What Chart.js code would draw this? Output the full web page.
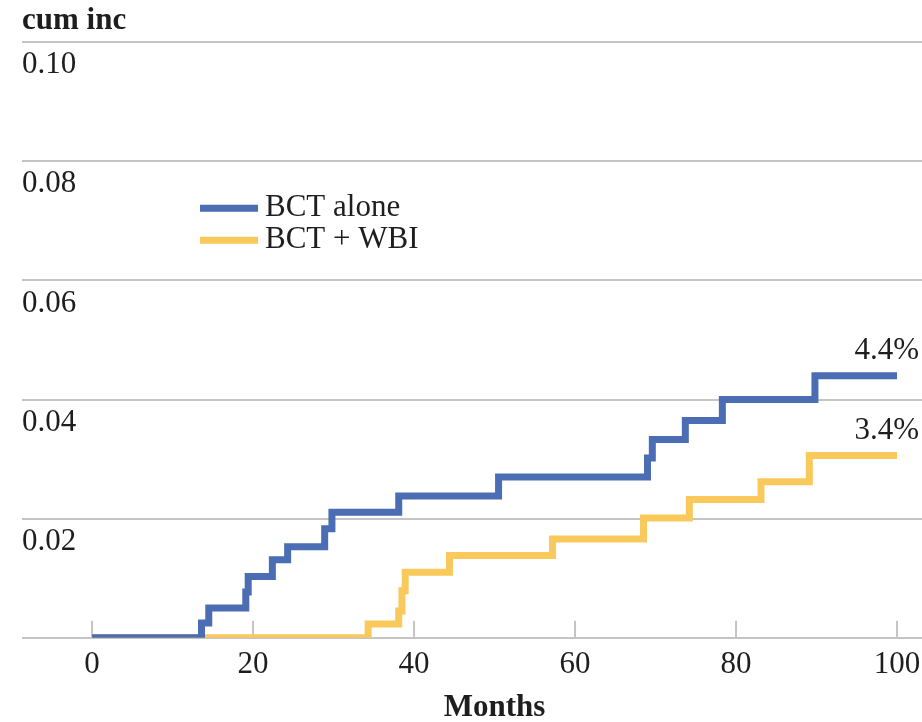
<!DOCTYPE html>
<html>
<head>
<meta charset="utf-8">
<script src="https://cdn.jsdelivr.net/npm/chart.js@4/dist/chart.umd.min.js"></script>
<style>
  body { margin: 0; background: #fff; }
  canvas { display: block; }
</style>
</head>
<body>
<canvas id="kmChart" width="922" height="722"></canvas>
<script>
// cumulative incidence (months, cum inc)
const bctMonths = [0, 13.6, 14.5, 19.1, 19.4, 22.4, 24.3, 28.9, 29.8, 38.1, 50.5, 69.0, 69.6, 73.7, 78.3, 89.8, 100];
const bctCumInc = [0, 0.0025, 0.005, 0.0077, 0.0103, 0.0131, 0.0153, 0.0183, 0.0211, 0.0238, 0.027, 0.0302, 0.0333, 0.0365, 0.040, 0.044, 0.044];

const wbiMonths = [0, 34.3, 38.1, 38.5, 38.9, 44.4, 57.2, 68.5, 74.2, 83.1, 89.1, 100];
const wbiCumInc = [0, 0.0023, 0.0045, 0.0079, 0.011, 0.0138, 0.0166, 0.0201, 0.0232, 0.0262, 0.0306, 0.0306];

const seriesNames = ['BCT alone', 'BCT + WBI'];
const endLabels = ['4.4%', '3.4%'];
const xTicks = [0, 20, 40, 60, 80, 100];
const yTicks = [0, 0.02, 0.04, 0.06, 0.08, 0.10];
const yTickLabels = ['', '0.02', '0.04', '0.06', '0.08', '0.10'];

const BLUE = '#4a6db3';
const YELLOW = '#f9c95c';
const GRID = '#c4c4c4';
const INK = '#1e1e1e';
const SERIF = "'Liberation Serif', 'Times New Roman', serif";
const FONT_SIZE = 31;

const toPoints = (xs, ys) => xs.map((m, i) => ({ x: m, y: ys[i] }));

const decorations = {
    id: 'decorations',
    beforeDatasetsDraw(chart) {
        // short tick marks rising from the baseline
        const { ctx, scales: { x, y } } = chart;
        const base = y.getPixelForValue(0);
        ctx.save();
        ctx.strokeStyle = GRID;
        ctx.lineWidth = 2;
        xTicks.forEach(v => {
            const px = x.getPixelForValue(v);
            ctx.beginPath();
            ctx.moveTo(px, base);
            ctx.lineTo(px, base - 17);
            ctx.stroke();
        });
        ctx.restore();
    },
    afterDraw(chart) {
        const { ctx, chartArea, scales: { x, y } } = chart;
        ctx.save();
        ctx.font = FONT_SIZE + 'px ' + SERIF;
        ctx.fillStyle = INK;
        ctx.textBaseline = 'middle';

        // legend inside the plot
        const lx = chartArea.left + 178;
        let ly = chartArea.top + 166;
        chart.data.datasets.forEach(ds => {
            ctx.strokeStyle = ds.borderColor;
            ctx.lineWidth = 7;
            ctx.beginPath();
            ctx.moveTo(lx, ly);
            ctx.lineTo(lx + 58, ly);
            ctx.stroke();
            ctx.fillText(ds.label, lx + 65, ly);
            ly += 32;
        });

        // end-of-curve percentages
        ctx.textAlign = 'right';
        chart.data.datasets.forEach((ds, i) => {
            const last = ds.data[ds.data.length - 1];
            ctx.fillText(endLabels[i], x.getPixelForValue(last.x) + 22, y.getPixelForValue(last.y) - 25);
        });

        // x axis title, centred on the data range
        ctx.textAlign = 'center';
        ctx.font = 'bold ' + FONT_SIZE + 'px ' + SERIF;
        ctx.fillText('Months', x.getPixelForValue(50), 708);
        ctx.restore();
    }
};

new Chart(document.getElementById('kmChart'), {
    type: 'line',
    data: {
        datasets: [
            {
                label: seriesNames[0],
                data: toPoints(bctMonths, bctCumInc),
                borderColor: BLUE,
                borderWidth: 7,
                stepped: 'before',
                pointRadius: 0,
                borderJoinStyle: 'miter',
                fill: false
            },
            {
                label: seriesNames[1],
                data: toPoints(wbiMonths, wbiCumInc),
                borderColor: YELLOW,
                borderWidth: 7,
                stepped: 'before',
                pointRadius: 0,
                borderJoinStyle: 'miter',
                fill: false
            }
        ]
    },
    options: {
        responsive: false,
        animation: false,
        devicePixelRatio: 1,
        layout: { padding: { left: 22, right: 0, top: 0, bottom: 39 } },
        plugins: {
            legend: { display: false },
            tooltip: { enabled: false },
            title: {
                display: true,
                text: 'cum inc',
                align: 'start',
                color: INK,
                font: { family: SERIF, size: FONT_SIZE, weight: 'bold' },
                padding: { top: 2, bottom: 3 }
            }
        },
        scales: {
            x: {
                type: 'linear',
                min: -8.7,
                max: 103.1,
                afterBuildTicks: scale => { scale.ticks = xTicks.map(v => ({ value: v })); },
                grid: { display: false },
                border: { display: false },
                ticks: {
                    color: INK,
                    padding: 0,
                    maxRotation: 0,
                    font: { family: SERIF, size: FONT_SIZE }
                }
            },
            y: {
                min: 0,
                max: 0.10,
                afterBuildTicks: scale => { scale.ticks = yTicks.map(v => ({ value: v })); },
                grid: { color: GRID, lineWidth: 2, drawTicks: false },
                border: { display: false },
                ticks: {
                    mirror: true,
                    padding: 0,
                    labelOffset: 23,
                    color: INK,
                    font: { family: SERIF, size: FONT_SIZE },
                    callback: (value, index) => yTickLabels[index]
                }
            }
        }
    },
    plugins: [decorations]
});
</script>
</body>
</html>
